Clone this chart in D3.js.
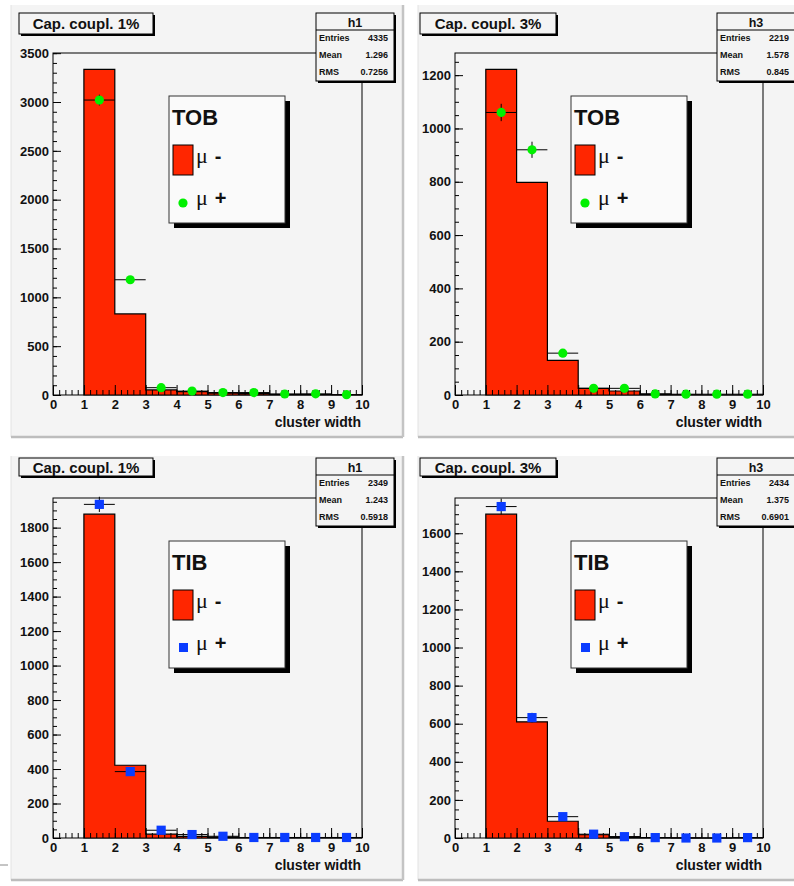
<!DOCTYPE html>
<html>
<head>
<meta charset="utf-8">
<script src="https://cdn.jsdelivr.net/npm/d3@7"></script>
<style>
  html, body { margin: 0; padding: 0; background: #ffffff; }
  svg { display: block; }
</style>
</head>
<body>
<svg id="chart" width="794" height="886"></svg>
<script>
// Cluster width histograms: mu- (filled) and mu+ (points) for TOB and TIB.
const binLow = [1, 2, 3, 4, 5, 6, 7, 8, 9];
const xTicks = [0, 1, 2, 3, 4, 5, 6, 7, 8, 9, 10];
const xTitle = "cluster width";

const detectors = ["TOB", "TOB", "TIB", "TIB"];
const titles = ["Cap. coupl. 1%", "Cap. coupl. 3%", "Cap. coupl. 1%", "Cap. coupl. 3%"];
const histNames = ["h1", "h3", "h1", "h3"];
const statEntries = ["4335", "2219", "2349", "2434"];
const statMean = ["1.296", "1.578", "1.243", "1.375"];
const statRMS = ["0.7256", "0.845", "0.5918", "0.6901"];

// mu- counts per bin (filled histogram)
const muMinusTOB1 = [3335, 830, 52, 34, 20, 14, 6, 4, 2];
const muMinusTOB3 = [1222, 798, 130, 25, 15, 3, 1, 0, 0];
const muMinusTIB1 = [1878, 422, 22, 10, 5, 3, 2, 1, 0];
const muMinusTIB3 = [1700, 610, 88, 17, 6, 2, 1, 0, 0];

// mu+ counts per bin (markers with errors)
const muPlusTOB1 = [3020, 1180, 75, 40, 25, 25, 10, 12, 3];
const muPlusTOB3 = [1060, 920, 157, 25, 25, 4, 3, 3, 3];
const muPlusTIB1 = [1935, 385, 45, 20, 10, 3, 3, 3, 3];
const muPlusTIB3 = [1740, 632, 112, 20, 7, 2, 0, 0, 2];

const yMajorStep = [500, 200, 200, 200];
const yMinorStep = [100, 50, 50, 50];

const muMinus = [muMinusTOB1, muMinusTOB3, muMinusTIB1, muMinusTIB3];
const muPlus = [muPlusTOB1, muPlusTOB3, muPlusTIB1, muPlusTIB3];

const RED = "#ff2600";
const GREEN = "#00f000";
const BLUE = "#0a3cff";
const PAD = "#f4f4f4";
const SANS = "'Liberation Sans', Arial, Helvetica, sans-serif";
const SERIF = "'Liberation Serif', 'DejaVu Serif', serif";

// Pad / frame layout for the 2x2 canvas
const layout = [
  { pad: { x: 11, y: 5, w: 392, h: 432 }, frame: { l: 53, t: 53, r: 362, b: 395 },
    title: { x: 19, y: 13, w: 134, h: 21 }, stats: { x: 316, y: 13, w: 78, h: 68 } },
  { pad: { x: 418, y: 5, w: 390, h: 432 }, frame: { l: 455, t: 53, r: 763, b: 395 },
    title: { x: 420, y: 13, w: 136, h: 21 }, stats: { x: 717, y: 13, w: 82, h: 68 } },
  { pad: { x: 11, y: 456, w: 392, h: 424 }, frame: { l: 53, t: 498, r: 362, b: 838 },
    title: { x: 19, y: 458, w: 134, h: 18 }, stats: { x: 316, y: 458, w: 78, h: 68 } },
  { pad: { x: 418, y: 456, w: 390, h: 424 }, frame: { l: 455, t: 498, r: 763, b: 838 },
    title: { x: 420, y: 458, w: 136, h: 18 }, stats: { x: 717, y: 458, w: 82, h: 68 } }
];

const svg = d3.select("#chart");

// stray mark at the lower left edge of the canvas
svg.append("line").attr("x1", 0).attr("x2", 8).attr("y1", 865).attr("y2", 865)
  .attr("stroke", "#8a8a8a").attr("stroke-width", 1);

layout.forEach((L, i) => {
  const g = svg.append("g");
  const minus = muMinus[i];
  const plus = muPlus[i];
  const isTOB = detectors[i] === "TOB";
  const F = L.frame;

  // pad
  g.append("rect").attr("x", L.pad.x).attr("y", L.pad.y)
    .attr("width", L.pad.w).attr("height", L.pad.h).attr("fill", PAD);
  g.append("line").attr("x1", L.pad.x).attr("x2", L.pad.x)
    .attr("y1", L.pad.y).attr("y2", L.pad.y + L.pad.h)
    .attr("stroke", "#e2e2e2").attr("stroke-width", 1);
  g.append("line").attr("x1", L.pad.x).attr("x2", L.pad.x + L.pad.w)
    .attr("y1", L.pad.y + L.pad.h).attr("y2", L.pad.y + L.pad.h)
    .attr("stroke", "#bdbdbd").attr("stroke-width", 2.5);
  g.append("line").attr("x1", L.pad.x + L.pad.w).attr("x2", L.pad.x + L.pad.w)
    .attr("y1", L.pad.y).attr("y2", L.pad.y + L.pad.h)
    .attr("stroke", "#c4c4c4").attr("stroke-width", 2.5);

  const x = d3.scaleLinear().domain([0, 10]).range([F.l, F.r]);
  const yMax = d3.max(minus) * 1.05;
  const y = d3.scaleLinear().domain([0, yMax]).range([F.b, F.t]);

  // frame
  g.append("rect").attr("x", F.l).attr("y", F.t)
    .attr("width", F.r - F.l).attr("height", F.b - F.t)
    .attr("fill", "none").attr("stroke", "#000").attr("stroke-width", 1);

  // mu- filled histogram, drawn as one step outline
  const p = d3.path();
  p.moveTo(x(binLow[0]), y(0));
  binLow.forEach((d, k) => {
    p.lineTo(x(d), y(minus[k]));
    p.lineTo(x(d + 1), y(minus[k]));
  });
  p.lineTo(x(binLow[binLow.length - 1] + 1), y(0));
  p.closePath();
  g.append("path").attr("d", p.toString())
    .attr("fill", RED).attr("stroke", "#000").attr("stroke-width", 1.2)
    .attr("stroke-linejoin", "miter");

  // axes
  const yMinorTicks = d3.range(0, yMax + 1e-6, yMinorStep[i]);
  const yMajorTicks = d3.range(0, yMax + 1e-6, yMajorStep[i]);
  const xMinorTicks = d3.range(0, 51).map(k => k * 0.2).filter(v => v <= 10);

  const yMinor = g.append("g").attr("transform", `translate(${F.l},0)`)
    .call(d3.axisLeft(y).tickValues(yMinorTicks).tickSizeInner(-4).tickSizeOuter(0).tickFormat(""));
  yMinor.select(".domain").remove();
  const yMajor = g.append("g").attr("transform", `translate(${F.l},0)`)
    .call(d3.axisLeft(y).tickValues(yMajorTicks).tickSizeInner(-8).tickSizeOuter(0).tickPadding(4)
      .tickFormat(d3.format("d")));
  yMajor.select(".domain").remove();

  const xMinor = g.append("g").attr("transform", `translate(0,${F.b})`)
    .call(d3.axisBottom(x).tickValues(xMinorTicks).tickSizeInner(-5).tickSizeOuter(0).tickFormat(""));
  xMinor.select(".domain").remove();
  const xMajor = g.append("g").attr("transform", `translate(0,${F.b})`)
    .call(d3.axisBottom(x).tickValues(xTicks).tickSizeInner(-10).tickSizeOuter(0).tickPadding(5)
      .tickFormat(d3.format("d")));
  xMajor.select(".domain").remove();

  [yMinor, yMajor, xMinor, xMajor].forEach(a => {
    a.selectAll("line").attr("stroke", "#000").attr("stroke-width", 1);
    a.selectAll("text").attr("font-family", SANS).attr("font-weight", "bold")
      .attr("font-size", 13).attr("fill", "#111");
  });

  g.append("text").attr("x", F.r - 1).attr("y", F.b + 32)
    .attr("text-anchor", "end").attr("font-family", SANS).attr("font-weight", "bold")
    .attr("font-size", 14).attr("fill", "#111").text(xTitle);

  // mu+ points with error bars
  const pts = g.append("g");
  binLow.forEach((d, k) => {
    const v = plus[k];
    const e = Math.sqrt(v);
    pts.append("line").attr("x1", x(d)).attr("x2", x(d + 1))
      .attr("y1", y(v)).attr("y2", y(v)).attr("stroke", "#000").attr("stroke-width", 1);
    pts.append("line").attr("x1", x(d + 0.5)).attr("x2", x(d + 0.5))
      .attr("y1", y(Math.max(0, v - e))).attr("y2", y(v + e))
      .attr("stroke", "#000").attr("stroke-width", 1);
  });
  binLow.forEach((d, k) => {
    const cx = x(d + 0.5), cy = y(plus[k]);
    if (isTOB) {
      pts.append("circle").attr("cx", cx).attr("cy", cy).attr("r", 4.6).attr("fill", GREEN);
    } else {
      pts.append("rect").attr("x", cx - 4.6).attr("y", cy - 4.6)
        .attr("width", 9.2).attr("height", 9.2).attr("fill", BLUE);
    }
  });

  // title box
  const T = L.title;
  g.append("rect").attr("x", T.x + 2).attr("y", T.y + 2).attr("width", T.w).attr("height", T.h).attr("fill", "#000");
  g.append("rect").attr("x", T.x).attr("y", T.y).attr("width", T.w).attr("height", T.h)
    .attr("fill", PAD).attr("stroke", "#000").attr("stroke-width", 1);
  g.append("text").attr("x", T.x + T.w / 2).attr("y", T.y + T.h / 2 + 5.5)
    .attr("text-anchor", "middle").attr("font-family", SANS).attr("font-weight", "bold")
    .attr("font-size", 15).attr("fill", "#111").text(titles[i]);

  // statistics box
  const S = L.stats;
  g.append("rect").attr("x", S.x + 2).attr("y", S.y + 2).attr("width", S.w).attr("height", S.h).attr("fill", "#000");
  g.append("rect").attr("x", S.x).attr("y", S.y).attr("width", S.w).attr("height", S.h)
    .attr("fill", PAD).attr("stroke", "#000").attr("stroke-width", 1);
  g.append("line").attr("x1", S.x).attr("x2", S.x + S.w).attr("y1", S.y + 17).attr("y2", S.y + 17)
    .attr("stroke", "#000").attr("stroke-width", 1);
  const statsRight = S.x + 72;
  g.append("text").attr("x", S.x + 39).attr("y", S.y + 13.5)
    .attr("text-anchor", "middle").attr("font-family", SANS).attr("font-weight", "bold")
    .attr("font-size", 12.5).attr("fill", "#111").text(histNames[i]);
  const rows = [["Entries", statEntries[i]], ["Mean", statMean[i]], ["RMS", statRMS[i]]];
  rows.forEach((r, k) => {
    const ry = S.y + 28 + k * 17;
    g.append("text").attr("x", S.x + 3).attr("y", ry)
      .attr("font-family", SANS).attr("font-weight", "bold").attr("font-size", 9)
      .attr("fill", "#111").text(r[0]);
    g.append("text").attr("x", statsRight).attr("y", ry).attr("text-anchor", "end")
      .attr("font-family", SANS).attr("font-weight", "bold").attr("font-size", 9)
      .attr("fill", "#111").text(r[1]);
  });

  // legend
  const lx = F.l + 116, ly = F.t + 43, lw = 116, lh = 127;
  g.append("rect").attr("x", lx + 5).attr("y", ly + 5).attr("width", lw).attr("height", lh).attr("fill", "#000");
  g.append("rect").attr("x", lx).attr("y", ly).attr("width", lw).attr("height", lh)
    .attr("fill", "#fafafa").attr("stroke", "#333").attr("stroke-width", 1);
  g.append("text").attr("x", lx + 3).attr("y", ly + 29)
    .attr("font-family", SANS).attr("font-weight", "bold").attr("font-size", 22)
    .attr("fill", "#111").text(detectors[i]);
  g.append("rect").attr("x", lx + 4).attr("y", ly + 49).attr("width", 20).attr("height", 30)
    .attr("fill", RED).attr("stroke", "#000").attr("stroke-width", 1);
  const t1 = g.append("text").attr("x", lx + 27).attr("y", ly + 67).attr("fill", "#111");
  t1.append("tspan").attr("font-family", SERIF).attr("font-size", 22).text("\u03bc");
  t1.append("tspan").attr("dx", 7).attr("font-family", SANS).attr("font-weight", "bold")
    .attr("font-size", 20).text("-");
  if (isTOB) {
    g.append("circle").attr("cx", lx + 14).attr("cy", ly + 107).attr("r", 4.6).attr("fill", GREEN);
  } else {
    g.append("rect").attr("x", lx + 10).attr("y", ly + 102).attr("width", 9).attr("height", 9).attr("fill", BLUE);
  }
  const t2 = g.append("text").attr("x", lx + 27).attr("y", ly + 109).attr("fill", "#111");
  t2.append("tspan").attr("font-family", SERIF).attr("font-size", 22).text("\u03bc");
  t2.append("tspan").attr("dx", 7).attr("font-family", SANS).attr("font-weight", "bold")
    .attr("font-size", 20).text("+");
});
</script>
</body>
</html>
